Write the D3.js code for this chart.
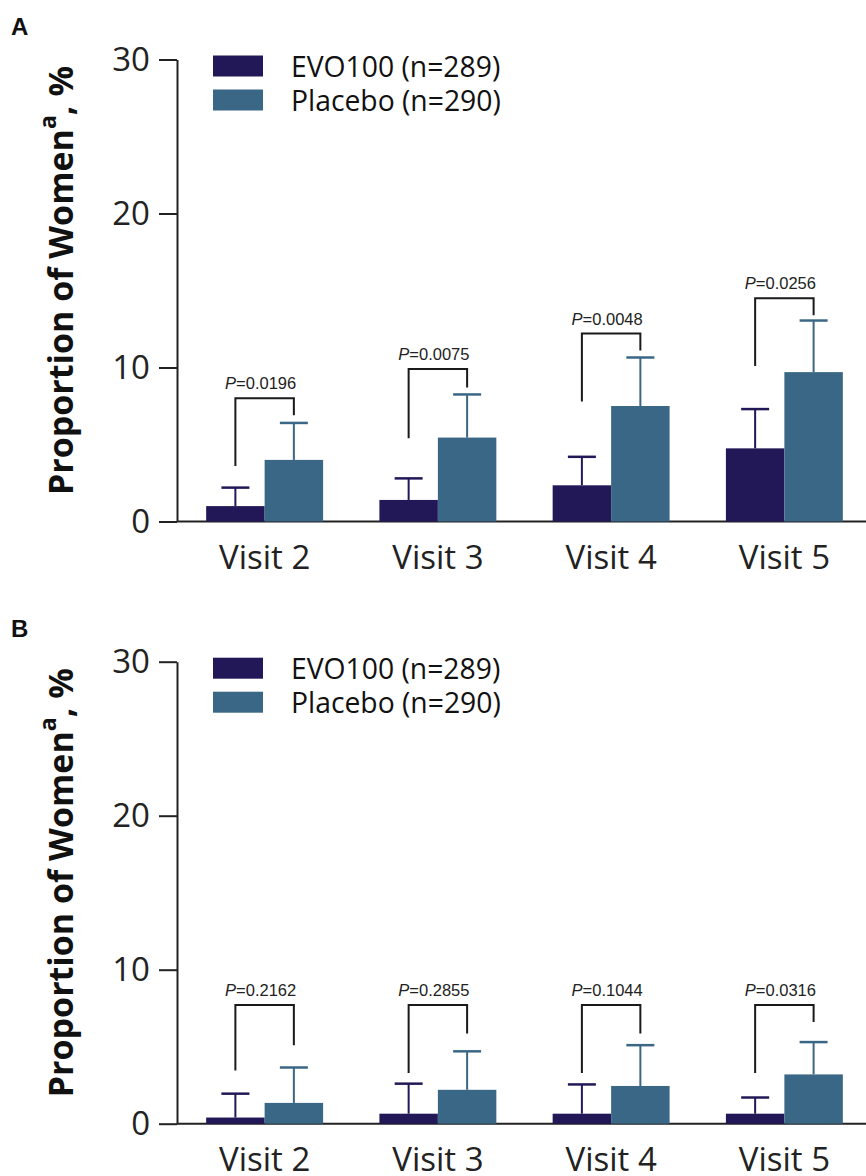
<!doctype html>
<html>
<head>
<meta charset="utf-8">
<script src="https://d3js.org/d3.v7.min.js"></script>
<style>
  body { margin: 0; background: #fff; }
  .axis text { font-family: "Open Sans", sans-serif; fill: #222; }
  .axis path, .axis line { stroke: #222; stroke-width: 2px; }
</style>
</head>
<body>
<svg width="866" height="1176" id="chart"></svg>
<script>
    // data
    var visits = ["Visit 2", "Visit 3", "Visit 4", "Visit 5"];
    var seriesNames = ["EVO100 (n=289)", "Placebo (n=290)"];
    var colors = ["#221858", "#3a6785"];
    var yTicks = [0, 10, 20, 30];

    // panel A
    var evoA = [1.0, 1.4, 2.35, 4.75];
    var evoErrA = [2.2, 2.8, 4.2, 7.3];
    var plaA = [4.0, 5.45, 7.5, 9.7];
    var plaErrA = [6.4, 8.25, 10.65, 13.05];
    var pA = ["0.0196", "0.0075", "0.0048", "0.0256"];
    var brTopA = [8.0, 9.9, 12.2, 14.5];
    var brLeftA = [3.6, 5.4, 7.8, 10.1];
    var brRightA = [6.9, 8.7, 11.1, 13.4];

    // panel B
    var evoB = [0.4, 0.65, 0.65, 0.65];
    var evoErrB = [1.95, 2.6, 2.55, 1.7];
    var plaB = [1.35, 2.2, 2.45, 3.2];
    var plaErrB = [3.65, 4.7, 5.1, 5.3];
    var pB = ["0.2162", "0.2855", "0.1044", "0.0316"];
    var brTopB = [7.7, 7.7, 7.7, 7.7];
    var brLeftB = [3.45, 3.3, 3.3, 3.3];
    var brRightB = [5.1, 5.85, 5.85, 6.6];

    var svg = d3.select("#chart");

    var x0 = d3.scaleBand().domain(visits).range([178, 871])
        .paddingInner(0.325).paddingOuter(0.1625);
    var x1 = d3.scaleBand().domain([0, 1]).range([0, x0.bandwidth()]);

    function drawPanel(letter, top, evo, evoErr, pla, plaErr, pvals, brTop, brLeft, brRight) {
        var y = d3.scaleLinear().domain([0, 30]).range([top + 462, top]);
        var g = svg.append("g");

        // panel letter
        g.append("text")
         .attr("x", 11).attr("y", top - 25)
         .attr("font-family", "Liberation Sans, Arial, sans-serif")
         .attr("font-weight", "bold")
         .attr("font-size", "24px")
         .attr("fill", "#111")
         .text(letter);

        // y axis
        g.append("g")
         .attr("class", "axis")
         .attr("transform", "translate(177,0)")
         .call(d3.axisLeft(y).tickValues(yTicks).tickSize(18).tickSizeOuter(0).tickPadding(9))
         .selectAll("text")
         .attr("font-size", "33px");

        // x axis
        g.append("g")
         .attr("class", "axis")
         .attr("transform", "translate(0," + y(0) + ")")
         .call(d3.axisBottom(x0).tickSize(0).tickSizeOuter(0).tickPadding(24))
         .call(function(a) { a.select(".domain").attr("d", "M177,0H866"); })
         .selectAll("text")
         .attr("font-size", "33px");

        // y label
        var lab = g.append("text")
         .attr("transform", "translate(73," + (top + 221) + ") rotate(-90)")
         .attr("text-anchor", "middle")
         .attr("font-family", "Open Sans, sans-serif")
         .attr("font-weight", "bold")
         .attr("font-size", "34px")
         .attr("fill", "#111");
        lab.append("tspan").text("Proportion of Women");
        lab.append("tspan").attr("font-size", "23px").attr("dy", "-17").text("a");
        lab.append("tspan").attr("dy", "17").text(", %");

        var vals = [evo, pla];
        var errs = [evoErr, plaErr];

        [0, 1].forEach(function(s) {
            var rows = visits.map(function(v, i) { return { v: v, val: vals[s][i], err: errs[s][i] }; });
            var cx = function(d) { return x0(d.v) + x1(s) + x1.bandwidth() / 2; };

            // error bars (upper only)
            g.selectAll(".stem" + s)
             .data(rows).enter().append("line")
             .attr("x1", cx).attr("x2", cx)
             .attr("y1", function(d) { return y(d.val); })
             .attr("y2", function(d) { return y(d.err); })
             .attr("stroke", colors[s]).attr("stroke-width", 2);
            g.selectAll(".cap" + s)
             .data(rows).enter().append("line")
             .attr("x1", function(d) { return cx(d) - 14; })
             .attr("x2", function(d) { return cx(d) + 14; })
             .attr("y1", function(d) { return y(d.err); })
             .attr("y2", function(d) { return y(d.err); })
             .attr("stroke", colors[s]).attr("stroke-width", 2.5);

            g.selectAll(".bar" + s)
             .data(rows).enter().append("rect")
             .attr("x", function(d) { return x0(d.v) + x1(s); })
             .attr("y", function(d) { return y(d.val); })
             .attr("width", x1.bandwidth())
             .attr("height", function(d) { return y(0) - y(d.val); })
             .attr("fill", colors[s]);
        });

        // significance brackets
        visits.forEach(function(v, i) {
            var xl = x0(v) + x1(0) + x1.bandwidth() / 2,
                xr = x0(v) + x1(1) + x1.bandwidth() / 2;
            g.append("path")
             .attr("d", "M" + xl + "," + y(brLeft[i]) + "V" + y(brTop[i]) + "H" + xr + "V" + y(brRight[i]))
             .attr("fill", "none")
             .attr("stroke", "#1a1a1a")
             .attr("stroke-width", 2);
            var t = g.append("text")
             .attr("x", (xl + xr) / 2 - 4)
             .attr("y", y(brTop[i]) - 9)
             .attr("text-anchor", "middle")
             .attr("font-family", "Liberation Sans, Arial, sans-serif")
             .attr("font-size", "16.5px")
             .attr("fill", "#222");
            t.append("tspan").attr("font-style", "italic").text("P");
            t.append("tspan").text("=" + pvals[i]);
        });

        // legend
        seriesNames.forEach(function(name, s) {
            g.append("rect")
             .attr("x", 213).attr("y", top - 4 + s * 34)
             .attr("width", 50).attr("height", 21)
             .attr("fill", colors[s]);
            g.append("text")
             .attr("x", 291).attr("y", top + 17 + s * 34)
             .attr("font-family", "Open Sans, sans-serif")
             .attr("font-size", "28.3px")
             .attr("fill", "#111")
             .text(name);
        });
    }

    drawPanel("A", 59.5, evoA, evoErrA, plaA, plaErrA, pA, brTopA, brLeftA, brRightA);
    drawPanel("B", 661.7, evoB, evoErrB, plaB, plaErrB, pB, brTopB, brLeftB, brRightB);
</script>
</body>
</html>
